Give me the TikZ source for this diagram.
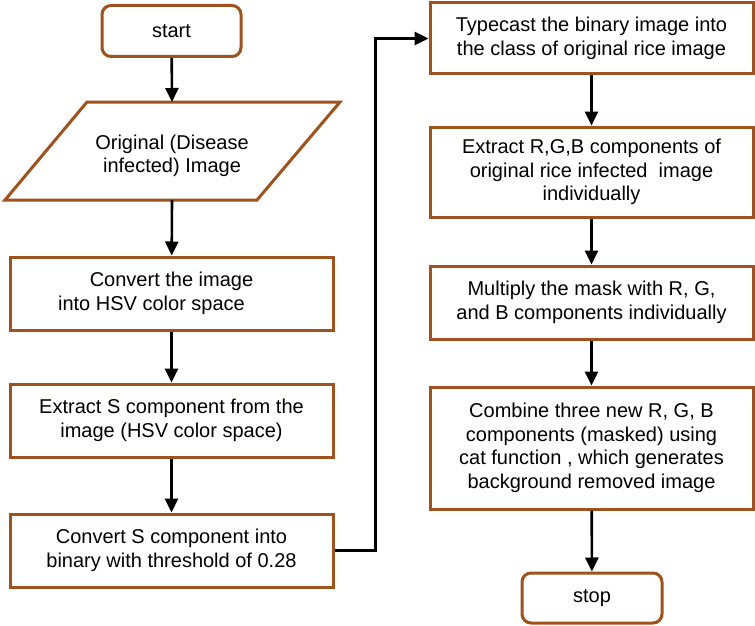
\documentclass[tikz,border=0pt]{standalone}
\usepackage{fontspec}
\setmainfont{Liberation Sans}
\usetikzlibrary{arrows.meta}
\definecolor{boxbrown}{RGB}{160,82,28}
\begin{document}
\begin{tikzpicture}[x=1pt,y=-1pt,
  box/.style={draw=boxbrown,line width=3pt,minimum width=323pt,align=center,inner sep=0pt,font=\fontsize{20}{23.5}\selectfont},
  term/.style={draw=boxbrown,line width=3pt,rounded corners=9pt,minimum width=139pt,minimum height=51pt,inner sep=0pt,font=\fontsize{20}{23.5}\selectfont},
  arr/.style={line width=2.6pt,-{Triangle[length=14pt,width=13pt]}}]
\useasboundingbox (0,0) rectangle (755,626);
\node[term] (start) at (171.5,31) {start};
\draw[boxbrown,line width=3pt,line join=miter] (87,102) -- (340,102) -- (257,200) -- (5,200) -- cycle;
\node[align=center,inner sep=0pt,minimum height=98pt,minimum width=170pt,font=\fontsize{20}{23.5}\selectfont] (para) at (172,156) {Original (Disease\\infected) Image};
\node[box,minimum height=73pt] (b1) at (171.5,293.5) {Convert the image\\into HSV color space\hspace*{40pt}};
\node[box,minimum height=73pt] (b2) at (171.5,420.5) {Extract S component from the\\image (HSV color space)};
\node[box,minimum height=73pt] (b3) at (171.5,550.5) {Convert S component into\\binary with threshold of 0.28};
\node[box,minimum height=71pt] (r1) at (591.5,38.5) {Typecast the binary image into\\the class of original rice image};
\node[box,minimum height=90pt] (r2) at (591.5,172) {Extract R,G,B components of\\original rice infected\ \ image\\individually};
\node[box,minimum height=73pt] (r3) at (591.5,302.5) {Multiply the mask with R, G,\\and B components individually};
\node[box,minimum height=122pt] (r4) at (591.5,448) {Combine three new R, G, B\\components (masked) using\\cat function , which generates\\background removed image};
\node[term,minimum width=140pt,minimum height=50pt] (stop) at (592,598) {stop};
\coordinate (c1) at (375.5,550.5);
\coordinate (c2) at (375.5,38.5);
\draw[arr] (start) -- (para.north |- 0,102);
\draw[arr] (para.north |- 0,200) -- (b1);
\draw[arr] (b1) -- (b2);
\draw[arr] (b2) -- (b3);
\draw[arr,line join=miter] (b3.east) -- (c1) -- (c2) -- (r1.west);
\draw[arr] (r1) -- (r2);
\draw[arr] (r2) -- (r3);
\draw[arr] (r3) -- (r4);
\draw[arr] (r4) -- (stop);
\end{tikzpicture}
\end{document}
